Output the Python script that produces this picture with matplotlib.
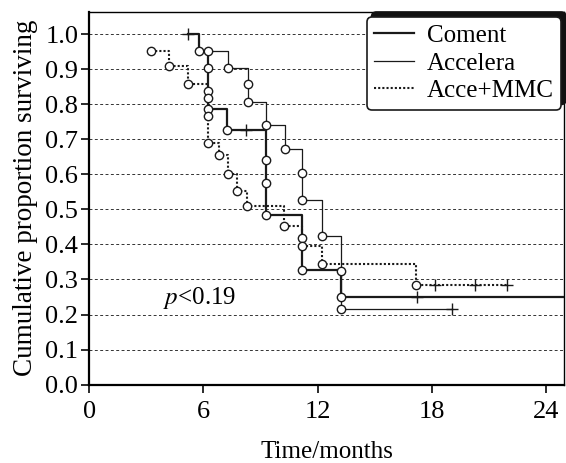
import matplotlib
matplotlib.use('Agg')
import matplotlib.pyplot as plt
import matplotlib.patches as mpatches
import numpy as np

plt.rcParams['font.family'] = 'Liberation Serif'
plt.rcParams['mathtext.fontset'] = 'stix'

# Coment group: events (circles) and censored (+)
coment_t = [5.76, 6.25, 6.25, 6.25, 7.22, 9.28, 9.28, 9.28, 11.19, 11.19, 13.21]
coment_s = [0.954, 0.905, 0.839, 0.786, 0.727, 0.641, 0.575, 0.485, 0.418, 0.327, 0.251]
coment_cen_t = [5.2, 8.22, 17.2]
coment_cen_s = [1.0, 0.727, 0.251]
coment_end = 24.9

# Accelera group
accel_t = [6.25, 7.3, 8.32, 8.32, 9.3, 10.28, 11.19, 11.19, 12.21, 13.21, 13.21]
accel_s = [0.954, 0.905, 0.858, 0.808, 0.74, 0.672, 0.603, 0.527, 0.424, 0.325, 0.215]
accel_cen_t = [19.04]
accel_cen_s = [0.215]
accel_end = 19.04

# Acce+MMC group
mmc_t = [3.22, 4.19, 5.2, 6.25, 6.25, 6.25, 6.82, 7.27, 7.78, 8.31, 10.23, 11.19, 12.21, 17.17]
mmc_s = [0.954, 0.911, 0.858, 0.818, 0.768, 0.691, 0.656, 0.601, 0.554, 0.51, 0.454, 0.397, 0.344, 0.284]
mmc_cen_t = [18.17, 20.27, 21.93]
mmc_cen_s = [0.284, 0.284, 0.284]
mmc_end = 21.93

labels = ['Coment', 'Accelera', 'Acce+MMC']


def km_path(ev_t, ev_s, cen_t, cen_s, t_end):
    pts = sorted(zip(ev_t + cen_t, ev_s + cen_s), key=lambda p: p[0])
    t = [p[0] for p in pts] + [t_end]
    s = [p[1] for p in pts] + [pts[-1][1]]
    return t, s


fig = plt.figure(figsize=(5.66, 4.63), dpi=100)
ax = fig.add_axes([0.1578, 0.1695, 0.8387, 0.8045])

for y in np.arange(0.1, 1.01, 0.1):
    ax.axhline(y, color='#333333', lw=0.7, ls=(0, (3, 2.5)), zorder=1)

groups = [
    (coment_t, coment_s, coment_cen_t, coment_cen_s, coment_end, dict(lw=1.6, ls='-')),
    (accel_t, accel_s, accel_cen_t, accel_cen_s, accel_end, dict(lw=0.9, ls='-')),
    (mmc_t, mmc_s, mmc_cen_t, mmc_cen_s, mmc_end, dict(lw=1.5, ls=(0, (1, 1)))),
]
handles = []
for (et, es, ct, cs, te, st), lab in zip(groups, labels):
    t, s = km_path(et, es, ct, cs, te)
    h, = ax.step(t, s, where='post', color='#1a1a1a', label=lab, zorder=3, **st)
    handles.append(h)
    ax.plot(ct, cs, '+', color='#1a1a1a', ms=9, mew=1.0, zorder=4)
    ax.plot(et, es, 'o', mfc='white', mec='#1a1a1a', ms=6, mew=1.0, zorder=5)

ax.text(3.85, 0.247, r'$p$<0.19', fontsize=18, ha='left', va='center')

ax.set_xlim(0, 24.95)
ax.set_ylim(0, 1.064)
ax.set_xticks([0, 6, 12, 18, 24])
ax.set_yticks(np.arange(0, 1.01, 0.1))
ax.set_yticklabels(['%.1f' % v for v in np.arange(0, 1.01, 0.1)])
ax.tick_params(direction='out', length=6, width=1.3, labelsize=19, color='#1a1a1a', pad=2)
ax.tick_params(axis='x', pad=6)
for side in ['left', 'bottom']:
    ax.spines[side].set_linewidth(1.6)
for side in ['top', 'right']:
    ax.spines[side].set_linewidth(1.0)
ax.set_xlabel('Time/months', fontsize=18, labelpad=13)
ax.set_ylabel('Cumulative proportion surviving', fontsize=19.5, labelpad=5.5)

leg = ax.legend(handles=handles, loc='upper right', bbox_to_anchor=(561 / 566, 1 - 17 / 463),
                bbox_transform=fig.transFigure, borderaxespad=0, fontsize=18,
                handlelength=1.6, labelspacing=0.2, handletextpad=0.5, borderpad=0.3,
                fancybox=True, edgecolor='#1a1a1a', framealpha=1)
leg.get_frame().set_linewidth(1.2)
fig.canvas.draw()
sh = mpatches.Shadow(leg.legendPatch, 3.6, 3.6, facecolor='#111111', edgecolor='#111111', alpha=1)
sh.set_zorder(4.9)
sh.set_clip_on(False)
ax.add_artist(sh)

fig.savefig('out.png', dpi=100)
